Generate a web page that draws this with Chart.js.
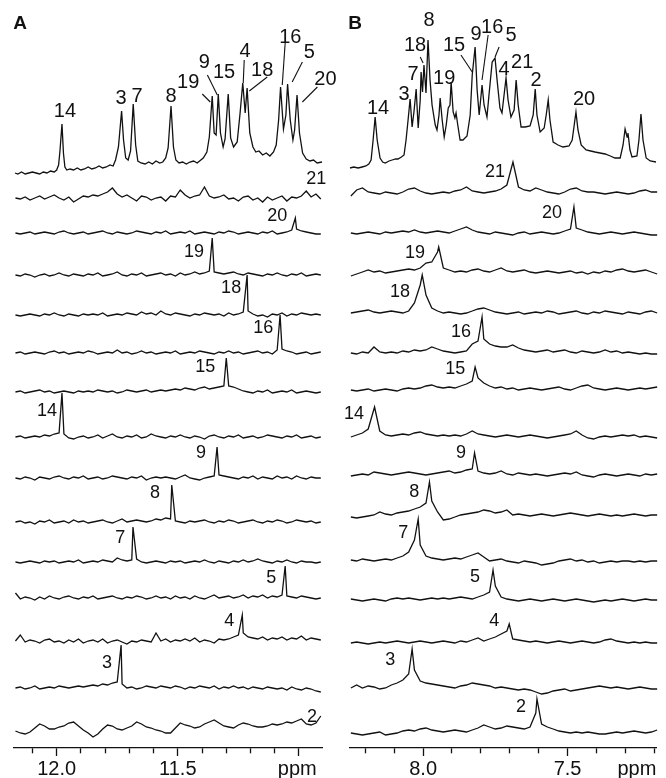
<!DOCTYPE html>
<html>
<head>
<meta charset="utf-8">
<script src="https://cdn.jsdelivr.net/npm/chart.js@4.4.1/dist/chart.umd.min.js"></script>
<style>
  html, body { margin: 0; padding: 0; background: #fff; }
  #wrap { position: relative; width: 666px; height: 778px; overflow: hidden; }
  canvas { position: absolute; top: 0; }
  #panelA { left: 0; }
  #panelB { left: 333px; }
</style>
</head>
<body>
<div id="wrap">
  <canvas id="panelA" width="345" height="778"></canvas>
  <canvas id="panelB" width="333" height="778"></canvas>
</div>
<script>
// ---------- data ----------
// trace order, top to bottom (same in both panels)
const traceNames = ['21', '20', '19', '18', '16', '15', '14', '9', '8', '7', '5', '4', '3', '2'];

// axis ticks (ppm)
const tickValuesA = [12.1, 12.0, 11.9, 11.8, 11.7, 11.6, 11.5, 11.4, 11.3, 11.2, 11.1, 11.0];
const majorTicksA = [12.0, 11.5, 11.0];
const tickLabelsA = ['12.0', '11.5'];
const tickValuesB = [8.2, 8.1, 8.0, 7.9, 7.8, 7.7, 7.6, 7.5, 7.4, 7.3, 7.2];
const majorTicksB = [8.0, 7.5];
const tickLabelsB = ['8.0', '7.5'];

// reference 1D spectra: [ppm, intensity]
const refA = [
  [12.172, 2], [12.160, 1], [12.145, 3], [12.130, 1], [12.115, 2], [12.100, 3], [12.085, 2], [12.070, 1],
  [12.055, 3], [12.040, 2], [12.025, 4], [12.010, 3], [12.000, 5], [11.992, 10], [11.986, 25], [11.978, 51],
  [11.972, 22], [11.966, 8], [11.958, 5], [11.945, 6], [11.930, 5], [11.915, 7], [11.900, 5], [11.885, 6],
  [11.870, 8], [11.855, 6], [11.840, 7], [11.825, 9], [11.810, 7], [11.795, 8], [11.780, 10], [11.767, 9],
  [11.757, 15], [11.745, 28], [11.732, 64], [11.724, 35], [11.715, 17], [11.705, 15], [11.695, 24], [11.684, 71],
  [11.674, 30], [11.665, 14], [11.652, 12], [11.635, 11], [11.620, 13], [11.605, 11], [11.590, 14], [11.575, 12],
  [11.562, 13], [11.550, 17], [11.540, 27], [11.528, 69], [11.518, 28], [11.508, 15], [11.495, 12], [11.480, 13],
  [11.465, 11], [11.450, 13], [11.435, 14], [11.420, 12], [11.405, 15], [11.395, 17], [11.380, 23], [11.370, 38],
  [11.358, 79], [11.350, 42], [11.342, 40], [11.333, 81], [11.324, 42], [11.313, 28], [11.305, 36], [11.292, 81],
  [11.282, 37], [11.270, 28], [11.255, 33], [11.243, 62], [11.232, 92], [11.222, 62], [11.214, 87], [11.203, 42],
  [11.190, 28], [11.178, 23], [11.165, 24], [11.150, 20], [11.135, 22], [11.120, 19], [11.105, 23], [11.094, 30],
  [11.084, 55], [11.076, 88], [11.064, 46], [11.054, 60], [11.047, 91], [11.036, 55], [11.025, 35], [11.018, 45],
  [11.008, 80], [10.998, 42], [10.985, 22], [10.970, 16], [10.955, 14], [10.940, 15], [10.925, 12], [10.905, 13]
];
const refB = [
  [8.253, 2], [8.240, 3], [8.225, 2], [8.211, 3], [8.198, 4], [8.188, 6], [8.180, 10], [8.173, 30],
  [8.166, 53], [8.159, 30], [8.149, 12], [8.140, 8], [8.131, 7], [8.118, 9], [8.107, 10], [8.095, 11],
  [8.087, 11], [8.075, 13], [8.066, 15], [8.059, 30], [8.052, 50], [8.045, 71], [8.038, 43], [8.031, 60],
  [8.024, 81], [8.017, 42], [8.010, 70], [8.007, 98], [8.002, 78], [7.997, 105], [7.990, 77], [7.983, 130],
  [7.976, 90], [7.969, 65], [7.958, 45], [7.952, 40], [7.945, 55], [7.941, 72], [7.934, 50], [7.927, 33],
  [7.920, 45], [7.913, 62], [7.907, 65], [7.903, 88], [7.896, 58], [7.890, 52], [7.886, 57], [7.880, 45],
  [7.872, 30], [7.862, 30], [7.848, 34], [7.837, 55], [7.830, 95], [7.820, 123], [7.813, 80], [7.806, 55],
  [7.796, 85], [7.789, 65], [7.779, 53], [7.772, 75], [7.761, 108], [7.751, 112], [7.744, 90], [7.734, 62],
  [7.727, 57], [7.713, 92], [7.706, 70], [7.696, 53], [7.685, 60], [7.678, 90], [7.671, 65], [7.661, 43],
  [7.647, 43], [7.630, 44], [7.619, 55], [7.612, 81], [7.606, 55], [7.595, 38], [7.581, 42], [7.574, 55],
  [7.567, 70], [7.561, 50], [7.550, 28], [7.533, 25], [7.516, 23], [7.495, 24], [7.484, 30], [7.477, 45],
  [7.471, 58], [7.464, 40], [7.453, 25], [7.436, 20], [7.420, 19], [7.405, 18], [7.388, 17], [7.370, 16],
  [7.352, 14], [7.336, 12], [7.318, 12], [7.308, 25], [7.301, 41], [7.294, 33], [7.291, 37], [7.284, 20],
  [7.277, 13], [7.260, 14], [7.253, 30], [7.246, 56], [7.239, 30], [7.228, 12], [7.214, 9], [7.194, 8]
];

// panel A selective traces: baseline noise every 0.02 ppm from 12.17 ppm
const noiseA21 = [0,-1,1,-2,0,2,-1,1,3,0,-2,1,-4,-1,2,1, 3,2,4,6,10,4,1,3,0,-3,2,1,-2,0,1,-3, 2,1,8,3,0,2,3,11,2,0,1,3,-1,0,-3,1, 2,-2,0,-4,1,-2,0,2,-3,1,0,2,7,1,4,-1];
const noiseA20 = [0,-1,0,1,-1,0,1,0,-1,1,2,0,-1,0,1,-1, 0,1,2,0,-1,1,0,-1,0,2,1,0,-1,1,0,2, -1,0,1,0,2,-1,0,1,0,-1,1,0,2,1,-1,0, 1,0,-1,1,0,2,-1,0,1,3,4,2,1,0,-1,-1];
const noiseA19 = [0,-1,1,0,-2,0,1,-1,0,2,0,-1,1,0,-1,1, 0,2,-1,0,1,3,0,-1,1,0,2,-1,0,1,2,0, 1,-1,2,0,1,3,1,2,4,3,2,1,2,3,1,0, 2,1,0,-1,1,0,2,0,-1,1,0,2,-1,0,1,0];
const noiseA18 = [0,-1,0,1,0,-1,1,0,2,0,-1,1,0,-1,1,0, 1,0,2,-1,0,1,0,2,1,0,3,1,2,0,4,1, 0,2,1,0,-1,1,0,2,1,0,1,-1,2,0,1,3, 4,1,-1,0,-2,1,0,2,-1,1,0,2,1,0,1,0];
const noiseA16 = [0,1,-1,0,1,0,-1,1,2,0,1,-1,0,1,0,2, 1,-1,0,1,0,3,0,1,-1,0,2,0,1,-1,0,1, 0,2,-1,0,1,0,2,1,0,-1,1,0,2,0,1,-1, 0,1,2,0,1,-1,3,4,2,1,-1,0,1,-1,0,1];
const noiseA15 = [0,1,-1,0,1,2,0,1,-1,0,1,0,-1,1,0,1, 0,2,1,0,1,-1,0,2,1,0,1,2,0,1,2,1, 2,3,2,4,3,2,4,5,3,4,5,6,6,5,3,1, 0,-1,1,0,2,-1,0,1,0,2,-1,0,1,0,-1,0];
const noiseA14 = [0,1,-1,0,1,0,2,1,3,4,3,-1,-2,0,1,-1, 0,2,-1,1,3,0,-1,1,0,2,-1,0,3,1,0,-1, 1,0,2,0,-1,1,0,-2,1,2,0,-1,1,0,2,-1, 0,1,-1,0,2,1,0,-1,1,0,2,-1,0,1,-1,0];
const noiseA9  = [0,-1,1,0,-2,1,0,-1,1,2,0,-1,1,0,2,-1, 0,1,-1,0,2,1,0,-1,1,0,2,-2,0,1,0,1, 0,-1,1,3,0,-1,-2,0,1,2,3,2,1,0,-1,1, 0,2,-1,1,0,-1,2,0,1,-1,2,0,-1,1,0,0];
const noiseA8  = [0,1,-1,0,-2,1,0,2,-1,0,1,-1,2,0,1,-1, 0,1,2,0,-1,1,3,0,1,2,1,0,1,3,2,4, 3,1,0,-1,1,0,1,2,0,-1,1,0,2,1,-1,0, 1,2,0,-1,1,0,2,1,-1,0,2,1,0,1,-1,0];
const noiseA7  = [0,-1,0,1,0,-1,1,0,1,-1,0,1,0,2,-1,0, 1,0,2,1,0,4,2,1,2,3,0,-1,0,1,0,-1, 1,0,1,-1,0,1,0,2,0,-1,1,0,-1,1,0,2, 0,1,3,1,0,-1,1,0,2,0,-1,1,0,0,-1,0];
const noiseA5  = [5,-1,1,0,-2,1,-1,2,0,-1,1,2,0,-1,1,0, 2,-1,0,1,2,0,-1,1,0,2,1,-1,0,2,0,1, -1,2,0,1,-1,2,0,-1,1,3,0,1,2,0,1,3, 0,2,1,3,0,2,1,3,2,1,0,2,1,0,-1,0];
const noiseA4  = [1,7,0,2,1,-1,2,3,0,1,-1,2,0,3,-1,1, 2,0,3,-1,1,2,0,-2,1,0,2,1,0,9,1,3, 0,2,1,3,1,4,0,2,1,-1,3,2,3,5,7,9, 5,4,3,5,2,4,3,5,2,4,3,6,2,4,3,2];
const noiseA3  = [0,1,-1,0,2,-1,0,1,0,2,1,0,1,2,1,2, 3,2,4,3,5,6,4,0,1,-1,0,2,1,0,2,1, 0,2,1,-1,1,0,2,1,0,2,-1,1,0,2,0,1, -1,1,0,-1,1,0,-1,0,-2,1,-1,-2,0,-1,-3,-4];
const noiseA2  = [0,-2,-3,-1,3,7,5,2,2,4,5,8,9,5,1,-2, -6,-3,2,6,5,2,1,3,5,9,7,4,3,1,0,-2, -2,3,8,6,5,3,4,7,9,11,8,5,4,3,6,8, 7,5,4,4,5,7,6,7,9,8,10,12,7,6,8,15];
// peaks on each A trace: [ppm, height]
const peaksA = [
  [], [[11.015, 15]], [[11.358, 37]], [[11.214, 40]], [[11.078, 38]], [[11.300, 34]], [[11.978, 44]],
  [[11.338, 31]], [[11.525, 37]], [[11.685, 35]], [[11.057, 32]], [[11.234, 27]], [[11.734, 43]], []
];

// panel B selective traces: baseline noise every 0.02 ppm from 8.25 ppm
const noiseB21 = [-3,3,5,1,0,-1,1,0,-1,1,4,5,2,0,-1,0, 1,0,2,3,6,2,1,0,1,2,4,8,10,6,3,2, 5,3,1,0,-1,1,4,5,2,1,1,0,-1,0,1,0, -1,0,2,3,1,1];
const noiseB20 = [0,-1,0,1,0,-1,1,0,1,2,1,3,1,0,1,2, 1,0,2,4,6,3,1,0,-1,1,0,-1,-2,0,1,-1, 0,1,0,-1,0,2,4,5,3,1,0,-1,0,1,0,-1, 0,1,0,-1,-2,-2];
const noiseB19 = [-4,-2,0,2,0,1,-1,0,1,2,3,2,4,9,10,20, 4,2,0,1,0,2,3,1,0,2,4,1,0,1,2,0, -1,0,1,0,-1,0,1,-1,0,-2,0,-1,1,0,2,3, 1,0,1,2,0,-2];
const noiseB18 = [0,1,2,3,1,0,1,2,1,0,2,10,28,18,5,2, 0,1,0,-1,0,2,4,5,3,1,0,-1,0,1,-1,0, 1,0,2,1,-1,0,1,2,0,-1,1,0,2,1,0,-1, 1,0,-1,1,2,0];
const noiseB16 = [0,-1,1,0,6,1,0,1,0,2,1,3,2,3,6,4, 2,1,0,1,2,9,12,14,9,7,6,6,8,5,3,2, 1,2,3,1,2,3,1,0,2,1,0,1,3,1,2,0, 1,0,-1,0,-1,-1];
const noiseB15 = [0,-1,0,1,-1,0,1,0,-1,1,2,1,2,4,5,3, 2,3,2,4,6,9,12,7,4,2,3,1,2,0,1,2, 1,0,1,2,3,1,0,2,4,5,2,1,0,1,2,1, 0,1,2,1,2,3];
const noiseB14 = [0,2,4,8,0,6,2,1,2,3,2,4,5,3,2,1, 2,1,2,1,3,6,3,2,1,0,1,2,1,0,1,2, 1,0,-1,0,1,2,3,6,2,-1,-2,0,1,0,1,2, 1,2,0,1,0,-1];
const noiseB9  = [-1,0,1,0,3,2,1,0,1,2,3,2,1,0,1,2, 3,4,2,3,5,6,4,2,1,2,4,1,0,2,1,0, 1,0,-1,0,1,2,1,3,0,-1,-2,0,1,0,-1,0, 1,0,-1,1,0,1];
const noiseB8  = [0,-1,0,1,2,5,3,2,4,5,6,8,10,14,16,5, -3,-2,0,2,3,4,5,7,6,4,5,7,2,3,2,1, 2,3,2,1,2,3,4,3,2,1,2,3,2,1,2,1, 2,3,2,1,2,2];
const noiseB7  = [0,-1,1,0,-1,0,1,0,2,4,8,20,15,4,2,1, 0,1,2,1,3,5,7,3,-1,0,1,-1,-2,-3,-1,-2, -3,-5,-4,-3,-1,0,1,-1,0,-2,-1,-3,-2,-1,-2,-1, -1,-2,-1,-2,-1,-1];
const noiseB5  = [1,0,-1,0,1,0,-1,1,2,1,2,1,0,1,2,1, 2,1,2,3,2,1,3,5,8,14,3,1,0,-1,0,1, 0,-1,0,1,0,-1,0,1,0,-1,-2,-1,0,-1,0,1, 0,-1,0,1,0,0];
const noiseB4  = [0,1,0,-1,0,1,0,1,2,1,0,1,2,1,0,1, 2,1,0,2,1,3,5,2,4,6,9,12,4,3,2,1, 2,1,0,1,2,1,0,1,2,1,0,1,3,4,2,1, 0,1,0,1,0,0];
const noiseB3  = [0,3,0,2,1,-1,0,3,5,8,14,18,7,5,4,3, 2,1,0,2,3,5,4,3,2,0,1,0,-1,-2,-1,-2, -4,-6,-5,-3,-2,-1,-3,-2,-1,0,1,2,1,0,1,0, -1,0,1,0,-1,-1];
const noiseB2  = [0,-1,-2,-1,0,1,-2,-1,0,2,3,2,4,5,3,2, 1,2,3,2,1,3,5,8,6,4,5,7,6,5,4,6, 20,9,6,4,2,1,0,1,0,1,0,-1,-1,0,1,0, 1,2,1,0,1,3];
const peaksB = [
  [[7.689, 31]], [[7.478, 26]], [[7.946, 25]], [[8.003, 38]], [[7.796, 36]], [[7.820, 23]], [[8.168, 30]],
  [[7.822, 22]], [[7.978, 35]], [[8.017, 41]], [[7.758, 30]], [[7.702, 19]], [[8.038, 39]], [[7.606, 34]]
];

// ---------- layout ----------
const INK = '#111111';
const FONT = '"Liberation Sans", Arial, Helvetica, sans-serif';
const PLOT_H = 748;     // chart area height in px (y scale is in px)
const STEP = 0.02;

const layoutA = {
  letter: 'A', letterX: 20, ppmAt: 11.007,
  min: 10.905, max: 12.176, padL: 14, padR: 23, start: 12.17,
  refBase: 175,
  bases: [198, 233, 275, 315, 353, 392, 437, 478, 522, 562, 598, 642, 688, 731],
  traceLabelAt: [[10.929, 19], [11.09, 17], [11.433, 23], [11.28, 27], [11.147, 25], [11.387, 25], [12.04, 26],
    [11.404, 25], [11.594, 29], [11.738, 24], [11.114, 20], [11.288, 21], [11.792, 25], [10.946, 14]],
  refLabels: [['14', 11.966, 64], ['3', 11.734, 77], ['7', 11.668, 79], ['8', 11.528, 79], ['19', 11.457, 93],
    ['9', 11.391, 113], ['15', 11.309, 103], ['4', 11.222, 124], ['18', 11.152, 105], ['16', 11.036, 138],
    ['5', 10.957, 123], ['20', 10.891, 96]],
  leaders: [[11.399, 81, 11.366, 73], [11.378, 100, 11.337, 80], [11.226, 115, 11.230, 92], [11.131, 98, 11.205, 84],
    [11.057, 132, 11.069, 90], [10.986, 113, 11.028, 93], [10.924, 88, 10.986, 73]]
};
const layoutB = {
  letter: 'B', letterX: 22, ppmAt: 7.26,
  min: 7.194, max: 8.253, padL: 17, padR: 10, start: 8.25,
  refBase: 170,
  bases: [193, 233, 272, 313, 353, 390, 437, 475, 517, 560, 600, 643, 688, 733],
  traceLabelAt: [[7.751, 21], [7.554, 20], [8.028, 19], [8.080, 21], [7.869, 21], [7.889, 21], [8.239, 23],
    [7.869, 22], [8.031, 25], [8.069, 27], [7.820, 23], [7.754, 22], [8.114, 28], [7.661, 26]],
  refLabels: [['14', 8.156, 62], ['3', 8.066, 76], ['7', 8.035, 96], ['18', 8.028, 125], ['8', 7.979, 150],
    ['19', 7.927, 92], ['15', 7.893, 125], ['9', 7.817, 136], ['16', 7.761, 143], ['5', 7.696, 135],
    ['4', 7.720, 101], ['21', 7.657, 108], ['2', 7.609, 90], ['20', 7.443, 71]],
  leaders: [[8.010, 113, 8.000, 107], [7.869, 115, 7.830, 98], [7.775, 135, 7.796, 90], [7.737, 123, 7.751, 113]]
};

function buildTrace(noise, peaks, start) {
  let pts = noise.map((v, i) => ({ x: +(start - i * STEP).toFixed(3), y: v }));
  peaks.forEach(([p, h]) => {
    pts = pts.filter(pt => Math.abs(pt.x - p) > 0.003);
    pts.push({ x: p, y: h });
  });
  return pts.sort((a, b) => b.x - a.x);
}

function makePanel(id, L, ref, noises, peaks, ticks, majors, tickLabels) {
  const lift = base => PLOT_H - base;
  const datasets = [{ data: ref.map(([x, v]) => ({ x, y: lift(L.refBase) + v })) }];
  noises.forEach((n, k) => {
    const off = lift(L.bases[k]);
    datasets.push({ data: buildTrace(n, peaks[k], L.start).map(pt => ({ x: pt.x, y: off + pt.y })) });
  });
  datasets.forEach(d => Object.assign(d, {
    borderColor: INK, borderWidth: 1.3, pointRadius: 0, tension: 0, fill: false, clip: false
  }));
  const isMajor = v => majors.some(m => Math.abs(m - v) < 1e-6);

  const labels = {
    id: 'labels',
    afterDatasetsDraw(chart) {
      const { ctx, scales: { x, y } } = chart;
      const px = v => x.getPixelForValue(v);
      const py = (base, h) => y.getPixelForValue(lift(base) + h);
      ctx.save();
      ctx.fillStyle = INK;
      ctx.strokeStyle = INK;
      ctx.lineWidth = 1.1;
      ctx.textAlign = 'center';
      ctx.textBaseline = 'middle';
      ctx.font = '18px ' + FONT;
      traceNames.forEach((name, k) => {
        const [lp, lh] = L.traceLabelAt[k];
        ctx.fillText(name, px(lp), py(L.bases[k], lh));
      });
      ctx.font = '20px ' + FONT;
      L.refLabels.forEach(([name, lp, lh]) => ctx.fillText(name, px(lp), py(L.refBase, lh)));
      L.leaders.forEach(([p1, h1, p2, h2]) => {
        ctx.beginPath();
        ctx.moveTo(px(p1), py(L.refBase, h1));
        ctx.lineTo(px(p2), py(L.refBase, h2));
        ctx.stroke();
      });
      ctx.font = '20px ' + FONT;
      ctx.textBaseline = 'alphabetic';
      ctx.fillText('ppm', px(L.ppmAt), 775);
      ctx.font = 'bold 19px ' + FONT;
      ctx.textBaseline = 'middle';
      ctx.fillText(L.letter, L.letterX, 24);
      ctx.restore();
    }
  };

  new Chart(document.getElementById(id), {
    type: 'line',
    data: { datasets },
    options: {
      responsive: false,
      animation: false,
      events: [],
      layout: { padding: { left: L.padL, right: L.padR, top: 0, bottom: 0 } },
      plugins: { legend: { display: false }, tooltip: { enabled: false } },
      scales: {
        x: {
          type: 'linear',
          reverse: true,
          min: L.min,
          max: L.max,
          afterBuildTicks: scale => { scale.ticks = ticks.map(v => ({ value: v })); },
          afterFit: scale => { scale.height = 30; },
          border: { display: true, color: INK, width: 1.3 },
          grid: {
            drawOnChartArea: false,
            drawTicks: true,
            tickLength: 8,
            tickColor: INK,
            tickWidth: 1.3,
            tickBorderDash: ctx => (ctx.tick && isMajor(ctx.tick.value)) ? [] : [5, 20]
          },
          ticks: {
            autoSkip: false,
            maxRotation: 0,
            padding: 1,
            color: INK,
            font: { family: FONT, size: 20 },
            callback: v => {
              const s = Number(v).toFixed(1);
              return tickLabels.includes(s) ? s : '';
            }
          }
        },
        y: { display: false, min: 0, max: PLOT_H }
      }
    },
    plugins: [labels]
  });
}

makePanel('panelA', layoutA, refA,
  [noiseA21, noiseA20, noiseA19, noiseA18, noiseA16, noiseA15, noiseA14, noiseA9, noiseA8, noiseA7, noiseA5, noiseA4, noiseA3, noiseA2],
  peaksA, tickValuesA, majorTicksA, tickLabelsA);
makePanel('panelB', layoutB, refB,
  [noiseB21, noiseB20, noiseB19, noiseB18, noiseB16, noiseB15, noiseB14, noiseB9, noiseB8, noiseB7, noiseB5, noiseB4, noiseB3, noiseB2],
  peaksB, tickValuesB, majorTicksB, tickLabelsB);
</script>
</body>
</html>
